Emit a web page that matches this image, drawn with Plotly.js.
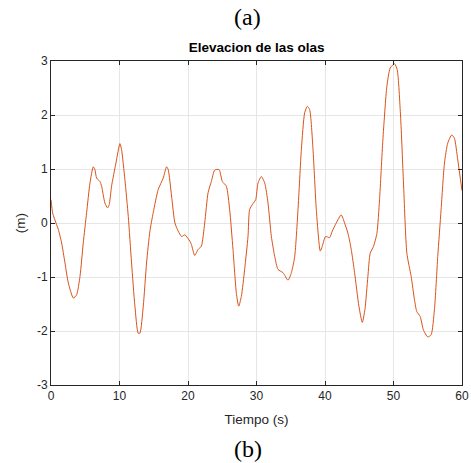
<!DOCTYPE html>
<html>
<head>
<meta charset="utf-8">
<script src="https://cdn.plot.ly/plotly-3.0.1.min.js"></script>
<style>html,body{margin:0;padding:0;background:#fff;}#chart{width:471px;height:463px;}</style>
</head>
<body>
<div id="chart"></div>
<script>
const tiempo = [0, 0.25, 0.73, 1.07, 1.55, 2.04, 2.53, 3.26, 3.74, 4.23, 4.71, 5.2, 5.69, 6.17, 6.41, 6.66, 7.14, 7.39, 7.87, 8.26, 8.5, 8.84, 9.48, 10.06, 10.3, 10.79, 11.28, 11.76, 12.25, 12.73, 12.98, 13.47, 13.95, 14.44, 14.92, 15.65, 16.38, 16.87, 17.11, 17.6, 18.09, 18.57, 19.06, 19.55, 20.28, 20.5, 20.98, 21.47, 21.95, 22.44, 22.93, 23.41, 23.9, 24.53, 25.01, 25.6, 26.08, 26.57, 27.06, 27.4, 27.79, 28.27, 28.76, 29.0, 29.49, 29.88, 30.22, 30.71, 31.2, 31.68, 32.17, 32.66, 33.14, 33.87, 34.6, 35.09, 35.58, 36.06, 36.55, 37.03, 37.42, 37.76, 38.25, 38.73, 39.31, 39.6, 40.09, 40.67, 41.06, 41.64, 42.37, 42.86, 43.35, 43.83, 44.32, 44.95, 45.44, 45.83, 46.26, 46.6, 47.09, 47.58, 47.96, 48.45, 49.03, 49.52, 50.15, 50.54, 51.03, 51.46, 51.95, 52.58, 53.06, 53.4, 53.89, 54.37, 55.0, 55.49, 55.98, 56.46, 56.95, 57.44, 57.92, 58.5, 58.89, 59.38, 60];
const elevacion = [0.43, 0.18, 0.0, -0.12, -0.37, -0.74, -1.11, -1.39, -1.33, -0.99, -0.37, 0.19, 0.74, 1.04, 0.99, 0.83, 0.77, 0.68, 0.37, 0.28, 0.34, 0.68, 1.11, 1.47, 1.36, 0.80, 0.12, -0.74, -1.54, -2.04, -2.04, -1.54, -0.74, -0.15, 0.19, 0.62, 0.83, 1.04, 0.99, 0.50, 0.0, -0.15, -0.25, -0.22, -0.34, -0.40, -0.60, -0.49, -0.43, 0.0, 0.56, 0.77, 0.98, 0.99, 0.77, 0.68, 0.25, -0.49, -1.30, -1.54, -1.36, -0.86, -0.25, 0.25, 0.36, 0.43, 0.74, 0.86, 0.74, 0.37, -0.25, -0.62, -0.86, -0.92, -1.06, -0.92, -0.62, 0.25, 1.36, 2.04, 2.16, 2.10, 1.36, 0.25, -0.52, -0.43, -0.25, -0.27, -0.15, 0.0, 0.15, 0.0, -0.19, -0.49, -0.92, -1.54, -1.84, -1.60, -0.99, -0.56, -0.43, -0.19, 0.43, 1.54, 2.53, 2.87, 2.95, 2.84, 1.98, 0.74, -0.56, -0.99, -1.42, -1.64, -1.73, -1.98, -2.11, -2.07, -1.60, -0.62, 0.25, 1.11, 1.48, 1.63, 1.57, 1.17, 0.60];
const xTicks = [0, 10, 20, 30, 40, 50, 60];
const xTickText = ['0', '10', '20', '30', '40', '50', '60'];
const yTicks = [-3, -2, -1, 0, 1, 2, 3];
const yTickText = ['-3', '-2', '-1', '0', '1', '2', '3'];

const axisCommon = {
  showline: true, linecolor: '#262626', linewidth: 1, mirror: 'ticks',
  ticks: 'inside', ticklen: 4, tickcolor: '#262626',
  showgrid: true, gridcolor: '#e6e6e6', gridwidth: 1, zeroline: false,
  tickfont: {family: 'Liberation Sans, Arial', size: 12, color: '#262626'}
};

Plotly.newPlot('chart', [{
  x: tiempo, y: elevacion, type: 'scatter', mode: 'lines',
  line: {color: '#D95319', width: 1, shape: 'spline', smoothing: 0.6}
}], {
  width: 471, height: 463,
  margin: {l: 51, r: 9, t: 61, b: 78},
  paper_bgcolor: '#ffffff', plot_bgcolor: '#ffffff',
  showlegend: false,
  title: {text: '<b>Elevacion de las olas</b>', x: 0.545, xanchor: 'center', y: 0.897, yanchor: 'middle',
    font: {family: 'Liberation Sans, Arial', size: 13.5, color: '#000'}},
  xaxis: Object.assign({}, axisCommon, {range: [0, 60], tickvals: xTicks, ticktext: xTickText,
    title: {text: 'Tiempo (s)', standoff: 12, font: {family: 'Liberation Sans, Arial', size: 13.5, color: '#262626'}}}),
  yaxis: Object.assign({}, axisCommon, {range: [-3, 3], tickvals: yTicks, ticktext: yTickText,
    title: {text: '(m)', standoff: 8, font: {family: 'Liberation Sans, Arial', size: 13.5, color: '#262626'}}}),
  annotations: [
    {text: '(a)', xref: 'paper', yref: 'paper', x: 0.4786, y: 1, yshift: 44, xanchor: 'center', yanchor: 'middle', showarrow: false,
      font: {family: 'Liberation Serif, Times New Roman', size: 24, color: '#000'}},
    {text: '(b)', xref: 'paper', yref: 'paper', x: 0.4786, y: 0, yshift: -64, xanchor: 'center', yanchor: 'middle', showarrow: false,
      font: {family: 'Liberation Serif, Times New Roman', size: 24, color: '#000'}}
  ]
}, {displayModeBar: false, staticPlot: true});
</script>
</body>
</html>
